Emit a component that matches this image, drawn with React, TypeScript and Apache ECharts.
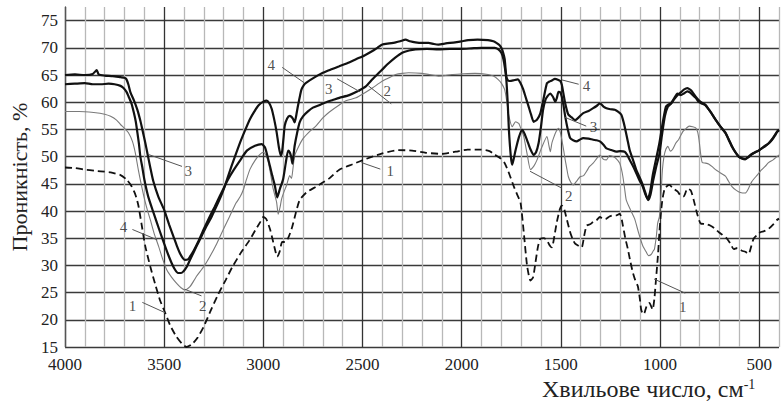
import React, { useEffect, useRef } from "react";
import * as echarts from "echarts";

// Curve 1 (dashed)
const curve1: [number, number][] = [
  [4000, 48], [3950, 47.9], [3900, 47.6], [3850, 47.4], [3820, 47.3], [3770, 47.1], [3720, 46.6], [3690, 45.8],
  [3665, 44.6], [3645, 43], [3630, 41], [3615, 37.8], [3595, 33.5], [3570, 29.8], [3545, 26.5], [3520, 23.5],
  [3495, 21.3], [3470, 19], [3440, 17], [3410, 15.6], [3387, 15], [3360, 15.5], [3330, 16.8], [3300, 18.8],
  [3270, 21.3], [3230, 24.5], [3190, 27.3], [3155, 29.8], [3110, 32.5], [3070, 34.6], [3040, 36.5], [3015, 38],
  [3000, 38.9], [2985, 38.5], [2965, 36.5], [2945, 33.5], [2930, 31.6], [2918, 32.5], [2905, 34.3], [2890, 34.3],
  [2875, 35], [2855, 37], [2835, 39.8], [2817, 42], [2783, 43.4], [2733, 44.5], [2667, 46], [2617, 47.6],
  [2550, 48.6], [2480, 49.6], [2400, 50.6], [2320, 51.2], [2250, 51.1], [2180, 50.7], [2100, 50.5], [2030, 50.9],
  [1970, 51.3], [1905, 51.3], [1860, 51], [1835, 50.4], [1805, 49.7], [1785, 48.9], [1765, 47.3], [1737, 44.5],
  [1720, 43], [1703, 41.5], [1687, 36.1], [1670, 29.9], [1653, 27.2], [1640, 27.8], [1628, 30.5], [1615, 33.5],
  [1603, 34.9], [1585, 35], [1570, 34.6], [1555, 33.6], [1545, 33.3], [1532, 35.5], [1520, 38], [1505, 40.3],
  [1495, 41], [1485, 40.6], [1470, 38.5], [1453, 36.1], [1440, 34.8], [1428, 34], [1410, 33.6], [1395, 33.3],
  [1382, 35.5], [1370, 37.3], [1350, 37.6], [1337, 38], [1320, 38.3], [1303, 38.9], [1285, 38.5], [1270, 38.6],
  [1255, 39], [1237, 39.2], [1220, 39.2], [1203, 39.5], [1195, 38.8], [1187, 37.3], [1175, 35], [1162, 33],
  [1150, 30.8], [1137, 28.7], [1125, 27.3], [1112, 26.2], [1102, 24], [1095, 21.9], [1085, 21], [1078, 21.3],
  [1065, 22.8], [1053, 23.1], [1045, 22.5], [1037, 21.9], [1028, 24], [1020, 27.5], [1010, 32], [1003, 36.1],
  [995, 39.8], [987, 42.3], [975, 44.2], [953, 44.8], [935, 44.2], [912, 43.6], [895, 42.8], [880, 42.7],
  [862, 44.1], [845, 43.8], [830, 42], [812, 39.4], [795, 37.7], [770, 37.6], [745, 37.3], [725, 36.8],
  [703, 36.1], [685, 35.6], [662, 34.9], [645, 34], [628, 33], [610, 33.2], [587, 32.7], [570, 32.5],
  [553, 32.1], [540, 33.5], [528, 34.9], [510, 35.6], [495, 36.1], [475, 36.3], [453, 36.7], [430, 37.5],
  [412, 38.3], [400, 38.6],
];

// Curve 2 (thin grey)
const curve2: [number, number][] = [
  [4000, 58.3], [3930, 58.3], [3855, 58.1], [3800, 57.8], [3770, 57.4], [3740, 56.7], [3720, 55.9], [3700, 55.2],
  [3680, 54.4], [3660, 52.8], [3645, 50.6], [3630, 47.5], [3615, 44.8], [3600, 42.3], [3585, 40.2], [3570, 38.4],
  [3550, 35.8], [3528, 33.5], [3508, 31.2], [3487, 29.2], [3462, 27.8], [3437, 26.7], [3415, 25.9], [3395, 25.5],
  [3370, 26.1], [3350, 27.2], [3337, 28], [3300, 29.8], [3270, 31.6], [3235, 34], [3203, 36.5], [3170, 39],
  [3137, 41.5], [3117, 42.6], [3100, 44], [3085, 45.8], [3067, 47.7], [3040, 49.4], [3017, 50.4], [3000, 50.8],
  [2988, 50.3], [2975, 49], [2962, 46.5], [2950, 44], [2933, 41.6], [2925, 39.4], [2915, 40.8], [2908, 42.2],
  [2895, 43.6], [2883, 44.7], [2867, 46.5], [2858, 46], [2850, 48], [2842, 50.2], [2820, 52], [2800, 53.3],
  [2767, 54.6], [2733, 55.7], [2700, 57.1], [2667, 58.2], [2617, 59.5], [2580, 60.3], [2533, 60.8], [2490, 61.7],
  [2450, 62.6], [2415, 63.5], [2383, 64.2], [2350, 64.8], [2333, 65.1], [2300, 65.3], [2267, 65.4], [2200, 65.3],
  [2150, 65], [2117, 64.8], [2080, 64.9], [2050, 65.1], [2000, 65.2], [1933, 65.3], [1867, 65.1], [1840, 64.8],
  [1817, 64.2], [1800, 63.5], [1783, 62.3], [1772, 60], [1762, 57.5], [1745, 55.5], [1728, 56.4], [1712, 56.1],
  [1700, 55], [1687, 53.7], [1670, 50.5], [1653, 47.6], [1637, 48.2], [1620, 49.4], [1595, 51.8], [1570, 53.7],
  [1560, 52], [1553, 50.9], [1545, 52.5], [1537, 53.4], [1525, 54.5], [1512, 55.2], [1503, 54.5], [1495, 53.1],
  [1485, 51], [1478, 49.4], [1470, 47.8], [1462, 46.3], [1450, 45.3], [1437, 44.8], [1420, 45.5], [1403, 46.3],
  [1385, 46.5], [1370, 47.3], [1355, 48.2], [1337, 48.8], [1320, 49.6], [1303, 50.3], [1285, 49.5], [1270, 49.4],
  [1255, 50.2], [1237, 50], [1220, 49.6], [1203, 48.8], [1195, 47.8], [1187, 46.3], [1178, 44], [1170, 42],
  [1150, 40.3], [1128, 38.6], [1108, 36], [1087, 33.6], [1070, 32.5], [1058, 31.8], [1045, 32], [1035, 32.6],
  [1028, 33], [1018, 35.5], [1012, 37.7], [1003, 39], [995, 43], [988, 47.5], [980, 50], [970, 51.4],
  [960, 51.9], [948, 51], [937, 51.3], [920, 52.5], [905, 53.2], [885, 54.6], [868, 55.2], [853, 55.6],
  [835, 55.5], [820, 55.3], [810, 54.5], [803, 53], [795, 50.5], [787, 48.9], [770, 48.8], [753, 48.6],
  [735, 48.1], [720, 47.6], [695, 47], [670, 46.4], [655, 45.5], [637, 44.5], [615, 43.8], [595, 43.4],
  [570, 43.3], [553, 44.2], [537, 45.4], [510, 46.6], [487, 47.6], [470, 48.2], [453, 48.9], [430, 49.4],
  [410, 50], [400, 50.3],
];

// Curve 3 (thick)
const curve3: [number, number][] = [
  [4000, 65], [3950, 65.1], [3900, 65], [3860, 65.2], [3840, 65.9], [3830, 65.1], [3800, 64.9], [3760, 64.8],
  [3720, 64.6], [3700, 64.5], [3690, 64.2], [3680, 63.2], [3670, 61.8], [3652, 60.3], [3635, 58.6], [3620, 56.6],
  [3610, 55], [3595, 52.5], [3585, 50.7], [3570, 48], [3555, 45.5], [3530, 42.7], [3500, 40.2], [3475, 37.5],
  [3453, 35.3], [3435, 33.5], [3420, 32.2], [3405, 31.3], [3395, 31], [3380, 31.1], [3370, 31.6], [3350, 32.8],
  [3328, 34.4], [3300, 36.7], [3270, 39], [3245, 40.8], [3220, 42.7], [3200, 44.2], [3178, 45.8], [3150, 47.5],
  [3117, 49.3], [3083, 51.1], [3042, 52], [3008, 52.3], [2992, 51.7], [2980, 50.2], [2967, 48.3], [2955, 46.5],
  [2942, 44.7], [2930, 42.5], [2917, 44], [2900, 45.9], [2887, 48.8], [2875, 51.1], [2867, 50.8], [2860, 50],
  [2853, 48.7], [2847, 50.5], [2842, 52], [2830, 54.3], [2817, 56.3], [2800, 57.4], [2775, 58.3], [2750, 59],
  [2715, 59.5], [2683, 60], [2650, 60.4], [2617, 60.8], [2567, 61.3], [2525, 62], [2483, 62.9], [2450, 64.2],
  [2417, 65.4], [2390, 66.4], [2367, 67.2], [2335, 68.2], [2300, 69.1], [2265, 69.5], [2233, 69.7], [2175, 69.8],
  [2117, 69.7], [2060, 69.8], [2000, 69.8], [1950, 69.9], [1900, 70], [1860, 70], [1833, 70], [1815, 69.7],
  [1800, 69.1], [1790, 68], [1782, 66.3], [1775, 64.2], [1768, 60], [1762, 55], [1752, 50], [1745, 48.5],
  [1738, 49.5], [1728, 51.2], [1712, 53.5], [1695, 54.9], [1683, 54.2], [1670, 53], [1655, 51.5], [1637, 50.3],
  [1625, 50.8], [1612, 52.5], [1600, 55.5], [1590, 58.5], [1578, 60.4], [1565, 61.2], [1553, 61.6], [1540, 61],
  [1528, 60.1], [1520, 60.8], [1512, 61.9], [1503, 61.8], [1495, 61], [1487, 59.5], [1478, 57.4], [1465, 55],
  [1453, 53.4], [1438, 53], [1420, 52.8], [1405, 53.1], [1387, 53.4], [1360, 53.3], [1337, 53.1], [1320, 53],
  [1303, 52.8], [1285, 52.2], [1270, 51.5], [1245, 51.2], [1220, 50.9], [1200, 51], [1178, 50.9], [1165, 50.3],
  [1153, 49.4], [1137, 48.3], [1120, 47], [1103, 45.6], [1087, 44.5], [1075, 43.2], [1062, 42.2], [1050, 43.5],
  [1037, 46.5], [1020, 49.5], [1003, 52.5], [985, 56.5], [970, 59.2], [957, 59.6], [945, 59.8], [930, 60.6],
  [912, 61.6], [895, 61.3], [880, 61.6], [862, 62], [850, 61.8], [837, 61.4], [820, 60.8], [803, 60],
  [785, 59.7], [770, 59.4], [745, 58.2], [720, 56.8], [695, 55.5], [670, 54.4], [655, 53.3], [637, 51.9],
  [620, 50.8], [603, 50], [585, 49.7], [570, 49.6], [553, 50], [537, 50.5], [520, 50.8], [503, 51.1],
  [487, 51.5], [470, 51.9], [453, 52.4], [437, 53], [420, 53.9], [410, 54.6], [400, 55],
];

// Curve 4 (thick)
const curve4: [number, number][] = [
  [4000, 63.3], [3950, 63.4], [3900, 63.5], [3860, 63.3], [3820, 63.3], [3780, 63.4], [3750, 63.3], [3720, 63],
  [3705, 62.6], [3690, 61.9], [3680, 61.1], [3665, 59.8], [3653, 58.1], [3643, 56.4], [3635, 54.4], [3627, 52.3],
  [3620, 50], [3610, 48], [3600, 45.8], [3580, 42.6], [3553, 39.6], [3525, 36.6], [3500, 34], [3480, 32],
  [3462, 30.4], [3445, 29.2], [3430, 28.6], [3415, 28.6], [3403, 28.9], [3385, 29.8], [3370, 31], [3337, 33.5],
  [3310, 35.5], [3287, 37.2], [3260, 39], [3237, 40.8], [3215, 42.6], [3195, 44.5], [3160, 48.3], [3117, 52.6],
  [3090, 55], [3067, 56.9], [3045, 58.3], [3025, 59.4], [3000, 60.1], [2983, 60.3], [2970, 59.8], [2958, 58.8],
  [2945, 56.8], [2933, 54.5], [2922, 51.8], [2912, 50.2], [2905, 51], [2898, 53.5], [2892, 55.7], [2880, 57],
  [2867, 57.5], [2858, 57.3], [2850, 56.9], [2842, 56.3], [2833, 57.8], [2825, 59.4], [2815, 61.2], [2808, 62.3],
  [2795, 63.2], [2783, 63.6], [2740, 64.6], [2700, 65.4], [2660, 66], [2617, 66.6], [2575, 67.2], [2533, 67.9],
  [2490, 68.6], [2450, 69.4], [2425, 70], [2400, 70.6], [2365, 70.8], [2333, 71], [2310, 71.2], [2283, 71.5],
  [2260, 71.2], [2233, 71], [2200, 70.9], [2167, 70.9], [2140, 70.7], [2117, 70.6], [2080, 70.8], [2033, 71],
  [2000, 71.2], [1967, 71.4], [1920, 71.5], [1867, 71.4], [1840, 71.2], [1825, 70.9], [1810, 70.5], [1800, 70],
  [1790, 69], [1783, 67.9], [1775, 64.8], [1767, 64], [1758, 63.9], [1740, 64], [1717, 64.2], [1703, 63.5],
  [1690, 62.4], [1678, 61], [1665, 59.5], [1650, 57.7], [1637, 56.4], [1620, 56.8], [1603, 58], [1588, 60.5],
  [1570, 63.5], [1558, 63.8], [1545, 64], [1530, 64.3], [1512, 64.1], [1503, 63.9], [1495, 63.2], [1487, 61.6],
  [1478, 59.8], [1470, 58.6], [1462, 57.7], [1445, 57.2], [1428, 56.7], [1410, 57.2], [1387, 58], [1360, 58.4],
  [1337, 58.9], [1320, 59.3], [1303, 59.8], [1285, 59.2], [1270, 58.9], [1250, 58.7], [1228, 58.6], [1210, 58.2],
  [1195, 57.7], [1187, 56.8], [1178, 55.5], [1165, 53.3], [1153, 51.2], [1137, 49.5], [1120, 47.6], [1103, 46.2],
  [1087, 44.8], [1075, 43.5], [1060, 42], [1048, 43], [1035, 45.5], [1020, 48], [1003, 50.5], [990, 54],
  [975, 57.5], [960, 59.2], [945, 59.7], [930, 60.5], [912, 61.3], [895, 61.8], [880, 62.3], [862, 62.6],
  [848, 62.3], [837, 61.9], [820, 61], [803, 60.3], [785, 59.8], [770, 59.5], [745, 58.2], [720, 56.8],
  [695, 55.5], [670, 54.3], [655, 53.2], [637, 51.8], [620, 50.8], [603, 50], [585, 49.6], [570, 49.5],
  [553, 49.9], [537, 50.4], [520, 50.8], [503, 51.1], [487, 51.5], [470, 52], [453, 52.4], [437, 53.1],
  [420, 54], [410, 54.5], [400, 54.8],
];

// Curve number annotations
const labelTexts = ["4", "1", "3", "2", "4", "3", "2", "1", "4", "3", "2", "1"];
const labelPositions: [number, number][] = [
  [3705, 37.0], [3660, 22.6], [3378, 47.4], [3305, 22.5],
  [2960, 66.9], [2670, 62.4], [2375, 62.0], [2360, 47.3],
  [1370, 62.9], [1335, 55.4], [1460, 42.8], [885, 22.4],
];
const leaderLines: [number, number, number, number][] = [
  [3660, 36.6, 3535, 34.7], [3610, 23.2, 3495, 21.3], [3410, 48.2, 3580, 50.4], [3312, 24.4, 3395, 25.6],
  [2905, 66.4, 2795, 63.6], [2628, 64.3, 2512, 61.9], [2470, 63.0, 2355, 59.7], [2505, 48.9, 2410, 47.7],
  [1410, 63.3, 1495, 64.1], [1372, 55.6, 1478, 57.2], [1495, 44.2, 1655, 47.3], [873, 24.9, 1030, 27.5],
];

const xMin = 400;
const xMax = 4000;
const xStep = 100;
const xLabelStep = 500;
const yMin = 15;
const yMax = 77.5;
const yStep = 5;

const SERIF = "Liberation Serif";

export default function App() {
  const ref = useRef<HTMLDivElement>(null);
  useEffect(() => {
    if (!ref.current) return;
    const chart = echarts.init(ref.current, undefined, { renderer: "svg" });
    const minor = "#b8b8b8";
    const major = "#333333";
    chart.setOption({
      animation: false,
      textStyle: { fontFamily: SERIF },
      grid: { left: 64, right: 0, top: 7, bottom: 61, containLabel: false },
      xAxis: {
        type: "value",
        inverse: true,
        min: xMin,
        max: xMax,
        interval: xStep,
        axisLine: { show: false },
        axisTick: { show: false },
        axisLabel: {
          margin: 9,
          fontFamily: SERIF,
          fontSize: 17,
          color: "#222",
          formatter: (v: number) => (v % xLabelStep === 0 ? String(v) : ""),
        },
        splitLine: {
          show: true,
          lineStyle: { color: [minor, major, minor, minor, minor], width: 1.3 },
        },
      },
      yAxis: {
        type: "value",
        min: yMin,
        max: yMax,
        interval: yStep,
        name: "Проникність, %",
        nameLocation: "middle",
        nameGap: 35,
        nameTextStyle: { fontFamily: SERIF, fontSize: 22, color: "#222" },
        axisLine: { show: true, lineStyle: { color: "#555", width: 1.3 } },
        axisTick: { show: false },
        axisLabel: {
          margin: 7,
          fontFamily: SERIF,
          fontSize: 17,
          color: "#222",
          formatter: (v: number) => (v % yStep === 0 ? String(v) : ""),
        },
        splitLine: {
          show: true,
          showMaxLine: false,
          lineStyle: { color: "#3a3a3a", width: 1.3 },
        },
      },
      graphic: [
        {
          type: "text",
          left: 542,
          top: 377,
          style: {
            text: "{a|Хвильове число, см}{b|-1}",
            rich: {
              a: { fontFamily: SERIF, fontSize: 24, fill: "#222" },
              b: { fontFamily: SERIF, fontSize: 14, fill: "#222", verticalAlign: "top" },
            },
          },
        },
      ],
      series: [
        {
          type: "line",
          data: curve1,
          showSymbol: false,
          smooth: 0.2,
          lineStyle: { color: "#111", width: 1.8, type: [7, 4] },
          z: 3,
        },
        {
          type: "line",
          data: curve2,
          showSymbol: false,
          smooth: 0.2,
          lineStyle: { color: "#7a7a7a", width: 1.1 },
          z: 3,
        },
        {
          type: "line",
          data: curve3,
          showSymbol: false,
          smooth: 0.2,
          lineStyle: { color: "#111", width: 2.2 },
          z: 4,
        },
        {
          type: "line",
          data: curve4,
          showSymbol: false,
          smooth: 0.2,
          lineStyle: { color: "#111", width: 2.2 },
          z: 4,
        },
        {
          type: "lines",
          coordinateSystem: "cartesian2d",
          data: leaderLines.map((l) => ({ coords: [[l[0], l[1]], [l[2], l[3]]] })),
          lineStyle: { color: "#555", width: 1, opacity: 1 },
          z: 5,
        },
        {
          type: "scatter",
          data: labelPositions.map((p, i) => ({ value: p, name: labelTexts[i] })),
          symbolSize: 1,
          itemStyle: { color: "rgba(0,0,0,0)" },
          label: {
            show: true,
            position: "inside",
            formatter: "{b}",
            fontFamily: SERIF,
            fontSize: 15,
            color: "#222",
          },
          z: 6,
        },
      ],
    });
    return () => chart.dispose();
  }, []);
  return <div ref={ref} style={{ width: 782, height: 408, position: "absolute", left: 0, top: 0 }} />;
}
